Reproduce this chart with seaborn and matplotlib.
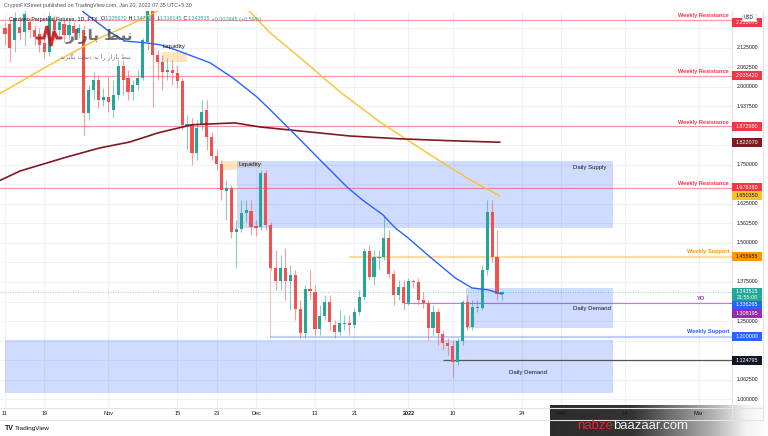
import numpy as np
import pandas as pd
import matplotlib
matplotlib.use("Agg")
import matplotlib.pyplot as plt
from matplotlib.patches import Rectangle
import seaborn as sns

# ------------------------------------------------------------------ data
start_date = pd.Timestamp("2021-10-11")

opens = [2.188, 2.201, 2.150, 2.191, 2.175, 2.207, 2.182, 2.169, 2.140, 2.111,
         2.214, 2.182, 2.201, 2.166, 2.195, 2.172, 2.182, 1.916, 1.990, 2.022,
         1.958, 1.967, 1.926, 1.974, 2.067, 2.028, 1.983, 2.006, 2.028, 2.143,
         2.265, 2.102, 2.079, 2.047, 2.054, 2.044, 2.019, 1.875, 1.881, 1.788,
         1.878, 1.926, 1.839, 1.779, 1.753, 1.667, 1.676, 1.535, 1.545, 1.596,
         1.603, 1.555, 1.551, 1.724, 1.558, 1.420, 1.379, 1.420, 1.379, 1.398,
         1.289, 1.212, 1.353, 1.343, 1.225, 1.267, 1.311, 1.238, 1.215, 1.241,
         1.244, 1.238, 1.279, 1.327, 1.475, 1.391, 1.452, 1.455, 1.516, 1.401,
         1.334, 1.359, 1.308, 1.379, 1.375, 1.318, 1.308, 1.228, 1.279, 1.209,
         1.180, 1.171, 1.119, 1.187, 1.311, 1.231, 1.292, 1.292, 1.414, 1.599,
         1.455, 1.33567]
closes = [2.169, 2.124, 2.220, 2.172, 2.233, 2.182, 2.159, 2.134, 2.111, 2.227,
          2.182, 2.207, 2.166, 2.198, 2.172, 2.188, 1.916, 1.990, 2.022, 1.958,
          1.967, 1.951, 1.974, 2.067, 2.022, 1.983, 2.006, 2.028, 2.150, 2.265,
          2.102, 2.079, 2.047, 2.054, 2.044, 2.019, 1.878, 1.881, 1.788, 1.868,
          1.919, 1.839, 1.779, 1.753, 1.670, 1.676, 1.535, 1.545, 1.596, 1.606,
          1.551, 1.548, 1.724, 1.558, 1.420, 1.379, 1.420, 1.379, 1.398, 1.289,
          1.212, 1.353, 1.347, 1.225, 1.267, 1.311, 1.247, 1.215, 1.244, 1.244,
          1.238, 1.279, 1.327, 1.475, 1.391, 1.455, 1.455, 1.516, 1.401, 1.334,
          1.359, 1.308, 1.379, 1.375, 1.318, 1.308, 1.228, 1.279, 1.212, 1.180,
          1.171, 1.119, 1.187, 1.311, 1.231, 1.295, 1.295, 1.414, 1.599, 1.455,
          1.33567, 1.343515]
highs = [2.207, 2.214, 2.239, 2.220, 2.246, 2.220, 2.198, 2.188, 2.156, 2.239,
         2.230, 2.220, 2.214, 2.214, 2.207, 2.201, 2.198, 2.006, 2.047, 2.038,
         1.996, 2.031, 2.022, 2.086, 2.086, 2.054, 2.022, 2.054, 2.156, 2.300,
         2.285, 2.118, 2.102, 2.092, 2.086, 2.070, 2.028, 1.910, 1.900, 1.894,
         1.958, 1.958, 1.855, 1.798, 1.766, 1.702, 1.686, 1.574, 1.638, 1.638,
         1.638, 1.574, 1.734, 1.734, 1.567, 1.478, 1.462, 1.484, 1.430, 1.414,
         1.318, 1.366, 1.414, 1.366, 1.302, 1.334, 1.334, 1.254, 1.286, 1.270,
         1.270, 1.292, 1.350, 1.484, 1.494, 1.478, 1.478, 1.590, 1.542, 1.414,
         1.382, 1.382, 1.388, 1.385, 1.388, 1.343, 1.318, 1.302, 1.292, 1.222,
         1.196, 1.190, 1.196, 1.318, 1.334, 1.318, 1.318, 1.430, 1.638, 1.638,
         1.542, 1.347]
lows = [2.134, 2.079, 2.111, 2.150, 2.131, 2.156, 2.134, 2.111, 2.092, 2.099,
        2.150, 2.163, 2.143, 2.150, 2.150, 2.156, 1.846, 1.894, 1.958, 1.932,
        1.939, 1.919, 1.900, 1.958, 1.974, 1.958, 1.958, 1.990, 2.022, 2.118,
        1.935, 2.022, 1.990, 2.022, 2.006, 1.996, 1.862, 1.798, 1.750, 1.766,
        1.862, 1.798, 1.766, 1.734, 1.638, 1.574, 1.516, 1.420, 1.535, 1.567,
        1.526, 1.523, 1.542, 1.542, 1.414, 1.350, 1.350, 1.318, 1.286, 1.254,
        1.196, 1.196, 1.318, 1.206, 1.206, 1.254, 1.222, 1.196, 1.206, 1.222,
        1.206, 1.228, 1.270, 1.318, 1.382, 1.366, 1.414, 1.446, 1.388, 1.302,
        1.318, 1.286, 1.302, 1.356, 1.302, 1.292, 1.190, 1.206, 1.174, 1.158,
        1.142, 1.071, 1.110, 1.174, 1.222, 1.222, 1.279, 1.286, 1.398, 1.439,
        1.318, 1.316145]

# moving averages (day offset from start_date, price)
ma50_day = [13.2, 15.9, 21.3, 24.4, 28.5, 31.5, 34.6, 41.7, 46.3, 51.2, 53.9, 60.0,
            64.0, 69.5, 72.6, 76.8, 79.3, 81.7, 86.4, 91.5, 94.9, 98.2, 101.0]
ma50_val = [2.294, 2.239, 2.175, 2.146, 2.140, 2.134, 2.118, 2.076, 2.028, 1.967, 1.926, 1.830,
            1.766, 1.679, 1.638, 1.590, 1.548, 1.519, 1.455, 1.388, 1.356, 1.350, 1.336265]
ma100_day = [-1.0, 0.0, 9.1, 19.3, 25.4, 29.5, 33.5, 39.6, 45.7, 49.8, 53.9, 60.0,
             68.1, 76.2, 81.7, 86.4, 94.5, 100.6]
ma100_val = [1.980, 1.987, 2.070, 2.156, 2.198, 2.230, 2.262, 2.310, 2.294, 2.239, 2.172, 2.092,
             1.983, 1.887, 1.830, 1.782, 1.702, 1.650]
ma200_day = [-1.0, 3.05, 12.6, 19.3, 25.4, 31.1, 38.0, 46.7, 51.8, 60.0, 70.1, 80.3, 90.4, 100.6]
ma200_val = [1.700, 1.730, 1.775, 1.804, 1.823, 1.852, 1.878, 1.884, 1.871, 1.858, 1.842,
             1.833, 1.827, 1.822]

# levels
weekly_resistance = [2.213075, 2.035420, 1.872980, 1.676380]
weekly_support_orange = 1.455955
weekly_support_blue = 1.200000
yearly_open = 1.308195
swing_low = 1.124795
last_close = 1.343515
ma50_last = 1.336265
ma100_last = 1.650350
ma200_last = 1.822070

# drawings: (day_start, day_end, price_low, price_high)
supply_zone = (47.2, 123.6, 1.5477, 1.7620)
demand_zone_upper = (93.7, 123.6, 1.2278, 1.3558)
demand_zone_lower = (0.0, 123.6, 1.0199, 1.1894)
liq_zone_1 = (31.9, 37.0, 2.0787, 2.1107)
liq_zone_2 = (44.1, 47.2, 1.7330, 1.7620)
level_start = {"orange": 70.0, "blue": 53.9, "yo": 81.0, "low": 89.0}
marker_vline = (53.9, 1.199, 1.557)

tick_dates = ["2021-10-11", "2021-10-19", "2021-11-01", "2021-11-15", "2021-11-23",
              "2021-12-01", "2021-12-13", "2021-12-21", "2022-01-01", "2022-01-10",
              "2022-01-24", "2022-02-01", "2022-02-14", "2022-03-01"]
tick_labels = ["11", "19", "Nov", "15", "23", "Dec", "13", "21", "2022", "10",
               "24", "Feb", "14", "Mar"]
price_ticks = [1.0, 1.0625, 1.125, 1.1875, 1.25, 1.3125, 1.375, 1.4375, 1.5, 1.5625,
               1.625, 1.6875, 1.75, 1.8125, 1.875, 1.9375, 2.0, 2.0625, 2.125, 2.1875]

# ------------------------------------------------------------------ style
sns.set_theme(style="white")
plt.rcParams["font.family"] = ["Liberation Sans", "DejaVu Sans"]

UP, DN = "#26a69a", "#ef5350"
W, H = 768, 436
CL, CR, CT, CB = 0, 732, 11, 408

fig = plt.figure(figsize=(W / 100, H / 100), dpi=100)
fig.patch.set_facecolor("white")
ax = fig.add_axes([CL / W, 1 - CB / H, (CR - CL) / W, (CB - CT) / H])
ax.set_facecolor("white")
XL, YL = (-1.016, 147.76), (0.9719, 2.2419)
ax.set_xlim(*XL)
ax.set_ylim(*YL)
for s in ax.spines.values():
    s.set_visible(False)
ax.set_xticks([])
ax.set_yticks([])

ov = fig.add_axes([0, 0, 1, 1], zorder=10)
ov.set_xlim(0, W)
ov.set_ylim(H, 0)
ov.axis("off")


def ypx(price):
    return H - ax.transData.transform((0, price))[1]


def xpx(day):
    return ax.transData.transform((day, 0))[0]


tick_days = [(pd.Timestamp(d) - start_date).days for d in tick_dates]

# grid
for d in tick_days:
    ax.axvline(d, color="#eef1f8", lw=0.8, zorder=0)
for p in price_ticks:
    ax.axhline(p, color="#eef1f8", lw=0.8, zorder=0)


def zone(z, fc, alpha, zo=1):
    d0, d1, lo, hi = z
    ax.add_patch(Rectangle((d0, lo), d1 - d0, hi - lo, fc=fc, alpha=alpha, ec="none", zorder=zo))


zone(supply_zone, "#2962ff", 0.22)
zone(demand_zone_upper, "#2962ff", 0.22)
zone(demand_zone_lower, "#2962ff", 0.22)
zone(liq_zone_1, "#ff9800", 0.25)
zone(liq_zone_2, "#ff9800", 0.25)

# levels
x_end = XL[1]
for p in weekly_resistance:
    ax.axhline(p, color="#f23645", alpha=0.5, lw=0.9, zorder=2)
    ax.annotate("Weekly Resistance", xy=(147.2, p), xytext=(0, 1.2), textcoords="offset points",
                ha="right", va="bottom", fontsize=4.1, fontweight="bold", color="#f23645", zorder=7)
ax.hlines(weekly_support_orange, level_start["orange"], x_end, color="#ff9800", alpha=0.35, lw=1.6, zorder=2)
ax.annotate("Weekly Support", xy=(147.2, weekly_support_orange), xytext=(0, 1.6), textcoords="offset points",
            ha="right", va="bottom", fontsize=4.1, fontweight="bold", color="#ff9800", zorder=7)
ax.hlines(weekly_support_blue, level_start["blue"], x_end, color="#2962ff", alpha=0.3, lw=1.6, zorder=2)
ax.annotate("Weekly Support", xy=(147.2, weekly_support_blue), xytext=(0, 1.6), textcoords="offset points",
            ha="right", va="bottom", fontsize=4.1, fontweight="bold", color="#2962ff", zorder=7)
ax.hlines(yearly_open, level_start["yo"], x_end, color="#9c27b0", alpha=0.6, lw=0.8, zorder=2)
ax.annotate("YO", xy=(141.5, yearly_open), xytext=(0, 1.6), textcoords="offset points",
            ha="center", va="bottom", fontsize=4.1, fontweight="bold", color="#9c27b0", zorder=7)
ax.hlines(swing_low, level_start["low"], x_end, color="#555555", lw=0.9, zorder=2)
ax.vlines(marker_vline[0], marker_vline[1], marker_vline[2], color="#f23645", alpha=0.3, lw=0.8, zorder=2)
ax.axhline(last_close, color=UP, lw=0.6, ls=(0, (1, 2)), alpha=0.7, zorder=2)

# zone texts
ax.text(118.8, 1.740, "Daily Supply", fontsize=4.3, color="#131722", ha="center", va="center", zorder=7)
ax.text(119.3, 1.289, "Daily Demand", fontsize=4.3, color="#131722", ha="center", va="center", zorder=7)
ax.text(106.3, 1.087, "Daily Demand", fontsize=4.3, color="#131722", ha="center", va="center", zorder=7)
ax.text(32.1, 2.127, "Liquidity", fontsize=4.5, color="#131722", ha="left", va="center", zorder=7)
ax.text(47.4, 1.750, "Liquidity", fontsize=4.5, color="#131722", ha="left", va="center", zorder=7,
        bbox=dict(boxstyle="square,pad=0.15", fc="#c9ccd6", ec="none", alpha=0.9))

# candles
n = len(opens)
df = pd.DataFrame({"day": np.arange(n), "open": opens, "high": highs, "low": lows, "close": closes})
df["up"] = df["close"] >= df["open"]
cols = np.where(df["up"], UP, DN)
ax.vlines(df["day"], df["low"], df["high"], colors=cols, lw=0.8, alpha=0.55, zorder=3)
body_lo = np.minimum(df["open"], df["close"])
body_h = np.maximum((df["close"] - df["open"]).abs(), 0.004)
ax.bar(df["day"], body_h, bottom=body_lo, width=0.64, color=cols, linewidth=0, zorder=4)

# moving averages
sns.lineplot(x=ma100_day, y=ma100_val, ax=ax, color="#fbc02d", lw=1.0, zorder=5, legend=False, sort=False)
sns.lineplot(x=ma200_day, y=ma200_val, ax=ax, color="#801922", lw=1.2, zorder=5, legend=False, sort=False)
sns.lineplot(x=ma50_day, y=ma50_val, ax=ax, color="#2962ff", lw=1.0, zorder=5, legend=False, sort=False)
ax.set_xlim(*XL)
ax.set_ylim(*YL)
ax.set_xlabel("")
ax.set_ylabel("")

# ------------------------------------------------------------------ frame / axes text
ov.plot([CR, CR], [CT, 420], color="#e0e3eb", lw=0.8)
ov.plot([763, 763], [CT, 420], color="#e0e3eb", lw=0.8)
ov.plot([0, 763], [CB, CB], color="#e0e3eb", lw=0.8)
ov.plot([0, 763], [420, 420], color="#e0e3eb", lw=0.8)

# bottom-right watermark gradient
gx = np.linspace(0, 1, 300)
shade = np.interp(gx, [0, 0.38, 0.75, 0.9, 1.0], [0.17, 0.2, 0.7, 0.95, 1.0])
grad = np.stack([shade, shade, shade], axis=-1)[None, :, :]
ov.imshow(grad, extent=(550, 768, 436, 405), aspect="auto", zorder=1)
ov.set_xlim(0, W)
ov.set_ylim(H, 0)

# right price labels (boxes); collect their vertical extents
boxes = []


def price_box(yc, h, text, fc, tc="white", lines=None):
    ov.add_patch(Rectangle((732, yc - h / 2), 30, h, fc=fc, ec="none", zorder=20))
    boxes.append((yc - h / 2, yc + h / 2))
    if lines is None:
        ov.text(747, yc, text, ha="center", va="center", fontsize=3.9, color=tc, zorder=21)
    else:
        for dy, t in lines:
            ov.text(747, yc + dy, t, ha="center", va="center", fontsize=3.9, color=tc, zorder=21)


price_box(ypx(weekly_resistance[0]) + 2, 9, f"{weekly_resistance[0]:.6f}", "#f23645")
for p in weekly_resistance[1:]:
    price_box(ypx(p), 9, f"{p:.6f}", "#f23645")
price_box(ypx(ma200_last), 9, f"{ma200_last:.6f}", "#801922")
price_box(ypx(ma100_last), 9, f"{ma100_last:.6f}", "#fbc02d", "#131722")
price_box(ypx(weekly_support_orange), 9, f"{weekly_support_orange:.6f}", "#ff9800", "#131722")
yl = ypx(last_close)
price_box(yl + 2.75, 12.5, None, UP, lines=[(-2.75, f"{last_close:.6f}"), (2.9, "21:55:00")])
price_box(yl + 13, 8, f"{ma50_last:.6f}", "#2962ff")
price_box(yl + 21.5, 9, f"{yearly_open:.6f}", "#9c27b0")
price_box(ypx(weekly_support_blue), 9, f"{weekly_support_blue:.6f}", "#2962ff")
price_box(ypx(swing_low), 9, f"{swing_low:.6f}", "#131722")
ov.add_patch(Rectangle((742, 14), 14, 7, fc="white", ec="#d1d4dc", lw=0.5, zorder=22))
ov.text(749, 17.5, "USD", ha="center", va="center", fontsize=3.4, color="#131722", zorder=23)

# price tick labels: those covered by a label box are hidden, as on the reference
for p in price_ticks:
    yt = ypx(p)
    if any(b0 - 2.5 < yt < b1 + 2.5 for b0, b1 in boxes):
        continue
    ov.text(737, yt, f"{p:.6f}", fontsize=3.7, color="#131722", ha="left", va="center", zorder=3)
for d, lab in zip(tick_days, tick_labels):
    ov.text(xpx(d), 413.5, lab, fontsize=4.0, color="#131722", ha="center", va="center", zorder=3,
            fontweight="bold" if lab == "2022" else "normal")

# header
ov.text(4, 6, "CryptoFXStreet published on TradingView.com, Jan 20, 2022 07:35 UTC+5:30",
        fontsize=3.9, color="#50535e", ha="left", va="center", zorder=25)


def chain(parts, x, y, size, zo=25, **kw):
    prev = ov.text(x, y, parts[0][0], color=parts[0][1], fontsize=size, ha="left", va="center",
                   zorder=zo, **kw)
    for t, c in parts[1:]:
        prev = ov.annotate(t, xy=(1, 0.5), xycoords=prev, xytext=(0, 0), textcoords="offset points",
                           ha="left", va="center", color=c, fontsize=size, zorder=zo, **kw)
    return prev


dark = "#131722"
chain([("Cardano Perpetual Futures, 1D, FTX  ", dark), ("O", dark), ("1.335670", UP),
       (" H", dark), ("1.347290", UP), (" L", dark), ("1.316145", UP), (" C", dark),
       ("1.343515", UP), (" +0.007845 (+0.59%)", UP)], 9, 19, 3.9)

# top-left watermark logo
ov.plot([37, 44, 47, 51, 54, 57, 61], [38, 38, 26, 46, 31, 38, 38], color="#c4161c", lw=2.2,
        solid_joinstyle="miter", zorder=24, alpha=0.9)
ov.text(99, 37, "\uFEAD\uFE8D\uFEAF\uFE8E\uFE91 \uFEC2\uFE92\uFEE7", fontsize=11, fontweight="bold",
        color="#444444", alpha=0.75, ha="center", va="center", family=["DejaVu Sans"], zorder=24)
ov.text(95, 57, "\uFEAA\uFBFE\uFEAE\uFBFF\uFB95\uFE91 \uFE96\uFEB3\uFEA9 \uFEEA\uFE91 \uFE8D\uFEAD "
        "\uFEAD\uFE8D\uFEAF\uFE8E\uFE91 \uFEC2\uFE92\uFEE7", fontsize=4.5, color="#555555", alpha=0.8,
        ha="center", va="center", family=["DejaVu Sans"], zorder=24)

# bottom-left TradingView logo
ov.text(5, 428, "TV", fontsize=5, fontweight="bold", color=dark, ha="left", va="center", zorder=25)
ov.text(15, 428, "TradingView", fontsize=4.6, color=dark, ha="left", va="center", zorder=25)

# bottom-right watermark text
chain([("nabze", "#e8262c"), ("baazaar.com", "#f2f2f2")], 577, 425.5, 9.5, zo=26)

fig.savefig("out.png", dpi=100, facecolor="white")
